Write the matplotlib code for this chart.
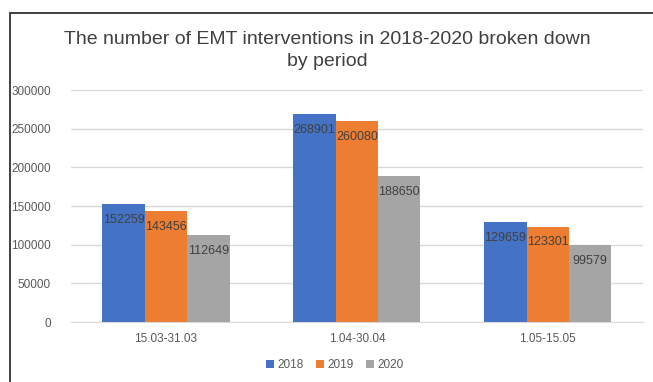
import matplotlib.pyplot as plt
import numpy as np
from matplotlib.patches import Rectangle

# Interventions per period and year
periods = ["15.03-31.03", "1.04-30.04", "1.05-15.05"]
years = ["2018", "2019", "2020"]
v2018 = [152259, 268901, 129659]
v2019 = [143456, 260080, 123301]
v2020 = [112649, 188650, 99579]
yticks = [0, 50000, 100000, 150000, 200000, 250000, 300000]

colors = ["#4472C4", "#ED7D31", "#A5A5A5"]
plt.rcParams["font.family"] = ["Liberation Sans", "DejaVu Sans"]

fig = plt.figure(figsize=(6.53, 3.82), dpi=100)
ax = fig.add_axes([0.108, 0.157, 0.877, 0.607])

x = np.arange(len(periods))
w = 0.222
for i, (vals, yr) in enumerate(zip([v2018, v2019, v2020], years)):
    bars = ax.bar(x + (i - 1) * w, vals, w, color=colors[i], label=yr, zorder=2)
    for b, v in zip(bars, vals):
        ax.annotate(str(v), (b.get_x() + b.get_width() / 2, v),
                    xytext=(0, -7), textcoords="offset points",
                    ha="center", va="top", fontsize=9, color="#404040", zorder=3)

ax.set_xlim(-0.5, 2.5)
ax.set_ylim(0, 300000)
ax.set_yticks(yticks)
ax.set_yticklabels([str(t) for t in yticks])
ax.set_xticks(x)
ax.set_xticklabels(periods)
ax.tick_params(length=0, labelsize=8.5, colors="#595959")
ax.tick_params(axis="y", pad=14)
ax.tick_params(axis="x", pad=8)
ax.grid(axis="y", color="#D9D9D9", linewidth=1, zorder=0)
for s in ["top", "right", "left"]:
    ax.spines[s].set_visible(False)
ax.spines["bottom"].set_color("#D9D9D9")

fig.text(0.502, 0.868, "The number of EMT interventions in 2018-2020 broken down\nby period",
         ha="center", va="center", fontsize=14, color="#404040", linespacing=1.4)

fig.legend(loc="center", bbox_to_anchor=(0.513, 0.045), ncol=3, frameon=False,
           fontsize=8.5, handlelength=0.7, handleheight=0.7, handletextpad=0.3,
           columnspacing=1.0, labelcolor="#595959")

# outer frame, only left and top edges visible
fig.patches.append(Rectangle((0.015, -0.1), 1.1, 0.066 + 1.0, transform=fig.transFigure,
                             fill=False, edgecolor="#333333", linewidth=1.3))

fig.savefig("out.png", dpi=100)
